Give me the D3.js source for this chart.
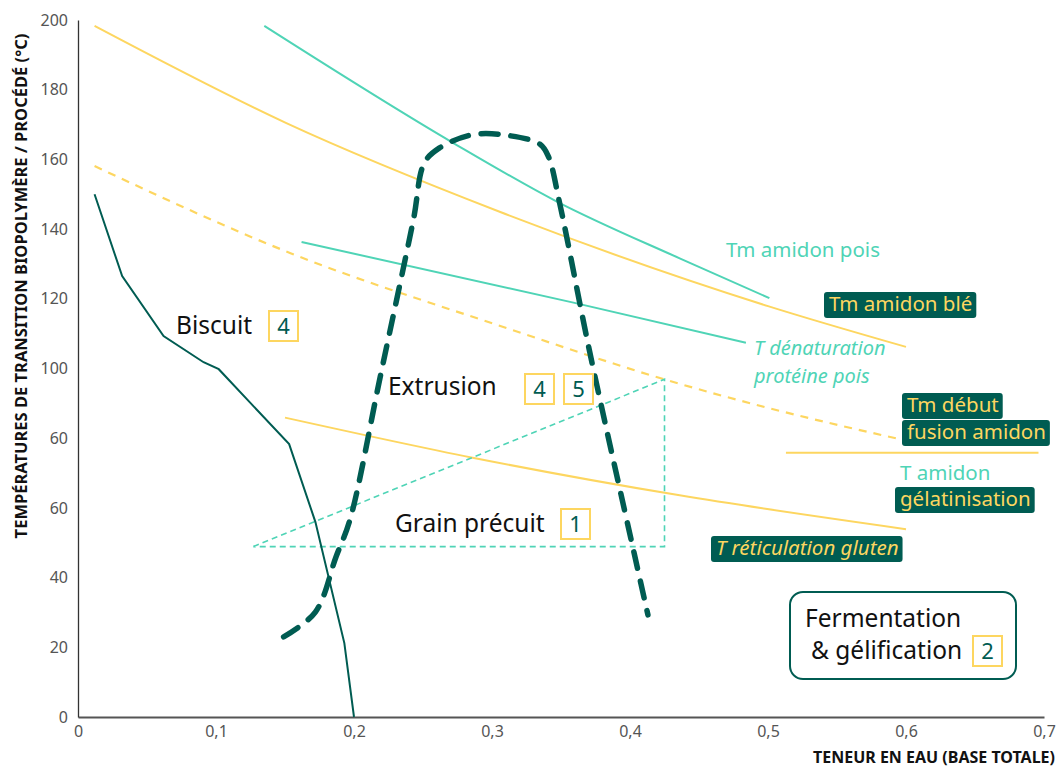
<!DOCTYPE html>
<html><head><meta charset="utf-8">
<script src="https://cdn.jsdelivr.net/npm/d3@7"></script>
<style>
body{margin:0;background:#fff;}
svg{display:block;font-family:"Noto Sans",sans-serif;}
</style></head>
<body><svg id="c" width="1057" height="768"></svg>
<script>
// ---- data ----
const xTicks = [0, 0.1, 0.2, 0.3, 0.4, 0.5, 0.6, 0.7];
const xTickLabels = ["0", "0,1", "0,2", "0,3", "0,4", "0,5", "0,6", "0,7"];
const yTicks = [0, 20, 40, 60, 80, 100, 120, 140, 160, 180, 200];
const yTickLabels = ["0", "20", "40", "60", "60", "100", "120", "140", "160", "180", "200"];

const tgLine = [[0.012,150],[0.032,126.5],[0.062,109.3],[0.091,101.8],[0.102,99.8],[0.153,78.3],[0.172,56],[0.193,21.2],[0.2,0]];
const tmAmidonBle = [[0.012,198.3],[0.151,170.4],[0.306,144.9],[0.5,117.9],[0.6,106.2]];
const tmAmidonPois = [[0.135,198.3],[0.272,164.7],[0.347,147.9],[0.436,131.6],[0.501,120.2]];
const tmDebutFusion = [[0.012,158.1],[0.154,133.1],[0.306,112.2],[0.436,95.6],[0.5,88.7],[0.598,79.5]];
const tDenaturation = [[0.162,136.3],[0.359,118.9],[0.484,107.4]];
const tReticulation = [[0.150,85.9],[0.286,74.4],[0.436,63.6],[0.6,53.9]];
const tGelatinisation = [[0.513,75.8],[0.696,75.8]];
const grainPrecuit = [[0.127,48.9],[0.425,96.9],[0.425,48.9],[0.127,48.9]];
const extrusion = [[0.149,23],[0.172,30.1],[0.187,46],[0.197,56.5],[0.219,97.6],[0.243,142.6],[0.251,159],[0.262,163.3],[0.286,167.1],[0.311,166.9],[0.335,164.3],[0.341,160.7],[0.349,147.5],[0.371,104.4],[0.403,47],[0.413,29.3]];

const darkGreen = "#005c52", teal = "#4fd4b6", yellow = "#fdd660";

// ---- chart ----
const svg = d3.select("#c");
const x = d3.scaleLinear().domain([0, 0.7]).range([78, 1044]);
const y = d3.scaleLinear().domain([0, 200]).range([717, 20]);

// axes
const gx = svg.append("g").attr("transform", "translate(0,717)")
  .call(d3.axisBottom(x).tickValues(xTicks).tickSize(0).tickPadding(9)
    .tickFormat((d, i) => xTickLabels[i]));
gx.select(".domain").attr("stroke", "#555").attr("stroke-width", 2);
const gy = svg.append("g").attr("transform", "translate(78,0)")
  .call(d3.axisLeft(y).tickValues(yTicks).tickSize(0).tickPadding(10)
    .tickFormat((d, i) => yTickLabels[i]));
gy.select(".domain").attr("stroke", "#333").attr("stroke-width", 1.3);
svg.selectAll(".tick text").attr("font-family", "Noto Sans, sans-serif").attr("font-size", 16).attr("fill", "#555");

svg.append("text").attr("transform", "translate(27,286) rotate(-90)")
  .attr("text-anchor", "middle").attr("font-weight", "bold").attr("font-size", 16.5).attr("fill", "#111")
  .text("TEMPÉRATURES DE TRANSITION BIOPOLYMÈRE / PROCÉDÉ (°C)");
svg.append("text").attr("x", 1055).attr("y", 763).attr("text-anchor", "end")
  .attr("font-weight", "bold").attr("font-size", 16).attr("fill", "#111")
  .text("TENEUR EN EAU (BASE TOTALE)");

const line = (curve) => d3.line().x(d => x(d[0])).y(d => y(d[1])).curve(curve);
const path = (data, curve, color, w, dash) => svg.append("path").datum(data)
  .attr("d", line(curve)).attr("fill", "none").attr("stroke", color)
  .attr("stroke-width", w).attr("stroke-dasharray", dash || null);

path(tmAmidonBle, d3.curveMonotoneX, yellow, 2);
path(tmAmidonPois, d3.curveMonotoneX, teal, 2);
path(tmDebutFusion, d3.curveMonotoneX, yellow, 2.2, "8 7");
path(tDenaturation, d3.curveMonotoneX, teal, 2);
path(tReticulation, d3.curveMonotoneX, yellow, 2);
path(tGelatinisation, d3.curveLinear, yellow, 2);
path(grainPrecuit, d3.curveLinear, teal, 1.6, "6 4");
path(tgLine, d3.curveLinear, darkGreen, 2);
path(extrusion, d3.curveCatmullRom, darkGreen, 5.5, "17 13").attr("stroke-linecap", "round");

// process labels with numbered boxes
function numBox(cx, cy, n) {
  svg.append("rect").attr("x", cx - 14).attr("y", cy - 15).attr("width", 29).attr("height", 30)
    .attr("fill", "#fff").attr("stroke", yellow).attr("stroke-width", 2);
  svg.append("text").attr("x", cx + 0.5).attr("y", cy + 8).attr("text-anchor", "middle")
    .attr("font-size", 22).attr("fill", darkGreen).text(n);
}
function proc(tx, ty, t) {
  svg.append("text").attr("x", tx).attr("y", ty).attr("font-size", 24.5).attr("fill", "#111").text(t);
}
proc(176, 334, "Biscuit"); numBox(283, 326, "4");
proc(388, 395, "Extrusion"); numBox(539, 389, "4"); numBox(578, 389, "5");
proc(395, 532, "Grain précuit"); numBox(575, 524, "1");

svg.append("rect").attr("x", 790).attr("y", 592).attr("width", 226).attr("height", 87).attr("rx", 13)
  .attr("fill", "#fff").attr("stroke", darkGreen).attr("stroke-width", 2);
const ferm = svg.append("text").attr("font-size", 24.5).attr("fill", "#111");
ferm.append("tspan").attr("x", 805).attr("y", 627).text("Fermentation");
ferm.append("tspan").attr("x", 811).attr("y", 659).text("& gélification");
numBox(987, 651, "2");

// series labels
function plain(tx, ty, t, italic, size) {
  svg.append("text").attr("x", tx).attr("y", ty).attr("font-size", size || 20.5).attr("fill", teal)
    .attr("font-style", italic ? "italic" : null).text(t);
}
function boxed(tx, ty, t, italic) {
  const g = svg.append("g");
  const r = g.append("rect").attr("fill", darkGreen).attr("rx", 3);
  const tt = g.append("text").attr("x", tx).attr("y", ty).attr("font-size", 20.5).attr("fill", yellow)
    .attr("font-style", italic ? "italic" : null).text(t);
  const b = tt.node().getBBox();
  r.attr("x", b.x - 5).attr("y", ty - 19).attr("width", b.width + 9).attr("height", 26);
}
plain(726, 257, "Tm amidon pois");
boxed(829, 311, "Tm amidon blé");
plain(754, 355, "T dénaturation", true, 20);
plain(754, 383, "protéine pois", true, 20);
boxed(907, 412, "Tm début");
boxed(907, 439, "fusion amidon");
plain(900, 480, "T amidon");
boxed(900, 506, "gélatinisation");
boxed(716, 555, "T réticulation gluten", true);
</script></body></html>
